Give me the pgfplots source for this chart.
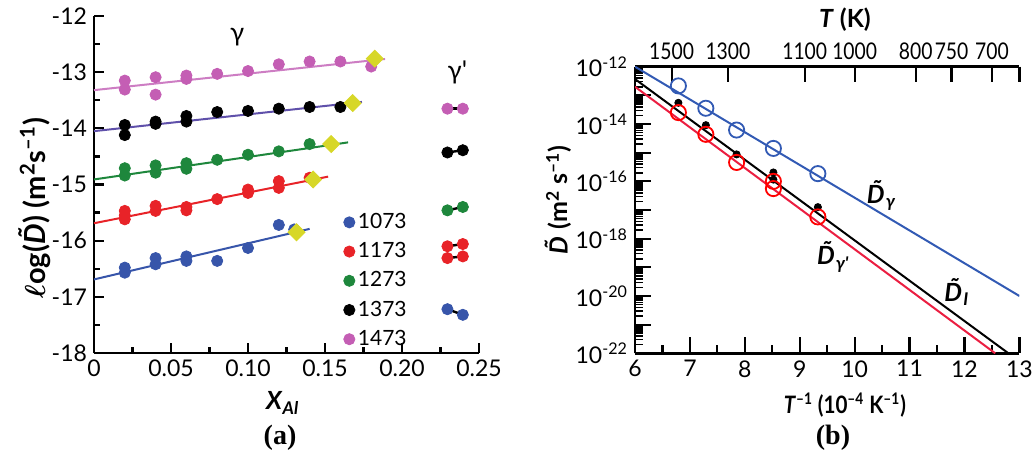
\documentclass[border=0pt]{standalone}
\usepackage{fontspec}
\setmainfont{Lato}
\newfontfamily\narrowfont{Lato}[FakeStretch=0.84]
\newfontfamily\seriffont{Liberation Serif}
\usepackage{amsmath}
\usepackage{graphicx}
\usepackage{pgfplots}
\pgfplotsset{compat=1.18}

\definecolor{cmag}{RGB}{196,94,180}
\definecolor{cmagl}{RGB}{205,125,195}
\definecolor{cgrn}{RGB}{30,135,60}
\definecolor{cred}{RGB}{232,35,40}
\definecolor{cblu}{RGB}{55,85,170}
\definecolor{cpur}{RGB}{95,80,170}
\definecolor{cdia}{RGB}{215,215,40}
\definecolor{bblu}{RGB}{50,90,180}
\definecolor{bred}{RGB}{235,30,65}

\newcommand\tk{\fontsize{11.5}{13}\selectfont}
\newcommand\lb{\fontsize{12.5}{14}\selectfont\bfseries}
\newcommand\Dt{\textbf{\textit{\~D}}}

\pgfplotsset{
  panel/.style={
    scale only axis, clip=false,
    /pgf/number format/assume math mode=true,
    axis line style={-, line width=1.3pt},
    every tick/.style={black, line width=1.1pt},
    tick align=inside,
    ticklabel style={font=\tk},
  },
}

\begin{document}
\begin{tikzpicture}
\useasboundingbox (0,0) rectangle (518pt,-229.5pt);

% (a) composition dependence
\begin{axis}[panel,
  at={(47pt,-176.5pt)}, anchor=south west,
  width=192.5pt, height=168.5pt,
  xmin=0, xmax=0.25, ymin=-18, ymax=-12,
  axis lines*=left,
  major tick length=5pt, minor tick length=3pt,
  xtick={0,0.05,0.1,0.15,0.2,0.25},
  xticklabels={0,0.05,0.10,0.15,0.20,0.25},
  minor x tick num=1,
  ytick={-18,-17,-16,-15,-14,-13,-12},
  yticklabels={-18,-17,-16,-15,-14,-13,-12},
  minor y tick num=1,
  xlabel={\lb\textit{X}\textsubscript{\textit{Al}}},
  xlabel style={at={(rel axis cs:0.49,-0.148)}, anchor=center},
  ylabel={\fontsize{14.5}{16}\selectfont\bfseries$\boldsymbol{\ell}$og(\Dt) (m\textsuperscript{2}s\textsuperscript{--1})},
  ylabel style={at={(rel axis cs:-0.155,0.43)}, anchor=center},
  legend style={at={(axis cs:0.158,-15.38)}, anchor=north west, draw=none, fill=none,
    font=\fontsize{10.5}{12}\selectfont, row sep=2.5pt, nodes={inner sep=1.5pt}},
  legend cell align=left,
  legend image code/.code={\draw[mark repeat=2,mark phase=2,#1] plot coordinates {(0cm,0cm) (0.12cm,0cm) (0.24cm,0cm)};},
]
% fitted lines
\addplot[cblu, line width=1pt, forget plot] coordinates {(0,-16.69) (0.140,-15.79)};
\addplot[cred, line width=1pt, forget plot] coordinates {(0,-15.69) (0.152,-14.86)};
\addplot[cgrn, line width=1pt, forget plot] coordinates {(0,-14.91) (0.165,-14.25)};
\addplot[cpur, line width=1pt, forget plot] coordinates {(0,-14.05) (0.174,-13.53)};
\addplot[cmagl, line width=1pt, forget plot] coordinates {(0,-13.32) (0.189,-12.765)};
% gamma' connectors
\addplot[black, line width=1.2pt, forget plot] coordinates {(0.2295,-17.22) (0.2395,-17.32)};
\addplot[black, line width=1.2pt, forget plot] coordinates {(0.2295,-16.10) (0.2395,-16.06)};
\addplot[black, line width=1.2pt, forget plot] coordinates {(0.2295,-16.31) (0.2395,-16.28)};
\addplot[black, line width=1.2pt, forget plot] coordinates {(0.2295,-15.46) (0.2395,-15.40)};
\addplot[black, line width=1.2pt, forget plot] coordinates {(0.2295,-14.43) (0.2395,-14.39)};
\addplot[black, line width=1.2pt, forget plot] coordinates {(0.2295,-13.65) (0.2395,-13.65)};
% data
\addplot[only marks, mark=*, mark size=2.8pt, color=cblu] coordinates {
 (0.02,-16.48) (0.02,-16.57) (0.04,-16.31) (0.04,-16.42) (0.06,-16.28) (0.06,-16.36)
 (0.08,-16.36) (0.10,-16.13) (0.12,-15.72) (0.13,-15.80)
 (0.2295,-17.22) (0.2395,-17.32)};
\addlegendentry{1073}
\addplot[only marks, mark=*, mark size=2.8pt, color=cred] coordinates {
 (0.02,-15.47) (0.02,-15.55) (0.02,-15.62) (0.04,-15.38) (0.04,-15.47) (0.06,-15.40) (0.06,-15.46)
 (0.08,-15.26) (0.10,-15.09) (0.10,-15.15) (0.12,-14.94) (0.12,-15.06) (0.14,-14.88)
 (0.2295,-16.10) (0.2395,-16.06) (0.2295,-16.31) (0.2395,-16.28)};
\addlegendentry{1173}
\addplot[only marks, mark=*, mark size=2.8pt, color=cgrn] coordinates {
 (0.02,-14.71) (0.02,-14.84) (0.04,-14.66) (0.04,-14.79) (0.06,-14.62) (0.06,-14.72)
 (0.08,-14.56) (0.10,-14.47) (0.12,-14.41) (0.14,-14.28)
 (0.2295,-15.46) (0.2395,-15.40)};
\addlegendentry{1273}
\addplot[only marks, mark=*, mark size=2.8pt, color=black] coordinates {
 (0.02,-13.94) (0.02,-14.12) (0.04,-13.88) (0.04,-13.92) (0.06,-13.78) (0.06,-13.88)
 (0.08,-13.71) (0.10,-13.69) (0.12,-13.65) (0.14,-13.62) (0.16,-13.62)
 (0.2295,-14.43) (0.2395,-14.39)};
\addlegendentry{1373}
\addplot[only marks, mark=*, mark size=2.8pt, color=cmag] coordinates {
 (0.02,-13.15) (0.02,-13.31) (0.04,-13.09) (0.04,-13.40) (0.06,-13.06) (0.06,-13.12)
 (0.08,-13.03) (0.10,-12.98) (0.12,-12.86) (0.14,-12.81) (0.16,-12.81) (0.18,-12.90)
 (0.2295,-13.65) (0.2395,-13.65)};
\addlegendentry{1473}
% interface compositions
\addplot[only marks, mark=square*, mark size=3pt, color=cdia, mark options={rotate=45}, forget plot] coordinates {
 (0.1315,-15.85) (0.1423,-14.91) (0.154,-14.28) (0.168,-13.55) (0.1823,-12.76)};
\node[font=\fontsize{13}{14}\selectfont] at (axis cs:0.093,-12.37) {γ};
\node[font=\fontsize{13}{14}\selectfont] at (axis cs:0.236,-13.0) {γ\textquotesingle};
\end{axis}

% (b) top temperature axis
\begin{axis}[panel,
  at={(317.5pt,-176.65pt)}, anchor=south west,
  width=192.2pt, height=143.3pt,
  xmin=6, xmax=13, ymin=-22, ymax=-12,
  axis x line*=top, axis y line=none,
  major tick length=7.5pt,
  xtick={6.6667,7.6923,9.0909,10,11.1111,11.7647,12.5,13},
  xticklabels={1500,1300,1100,1000,800,750,700,{}},
  xticklabel style={font=\narrowfont\fontsize{11.5}{13}\selectfont},
  xlabel={\lb\textit{T} (K)},
  xlabel style={at={(rel axis cs:0.546,1.163)}, anchor=center},
]
\addplot[draw=none, forget plot] coordinates {(6,-12)};
\end{axis}

% (b) main axis
\begin{axis}[panel,
  at={(317.5pt,-176.65pt)}, anchor=south west,
  width=192.2pt, height=143.3pt,
  xmin=6, xmax=13, ymin=1e-22, ymax=1e-12, ymode=log,
  clip=true, clip marker paths=false,
  axis x line*=bottom, axis y line*=left,
  major tick length=8pt, minor tick length=4pt,
  xtick={6,7,8,9,10,11,12,13},
  xticklabels={6,7,8,9,10,11,12,13},
  minor x tick num=1,
  ytick={1e-22,1e-20,1e-18,1e-16,1e-14,1e-12},
  yticklabels={10\textsuperscript{-22},10\textsuperscript{-20},10\textsuperscript{-18},10\textsuperscript{-16},10\textsuperscript{-14},10\textsuperscript{-12}},
  xlabel={\scalebox{0.86}[1]{\fontsize{12}{13}\selectfont\bfseries\textit{T}\textsuperscript{--1} (10\textsuperscript{--4} K\textsuperscript{--1})}},
  xlabel style={at={(rel axis cs:0.546,-0.18)}, anchor=center},
  ylabel={\lb\Dt\ (m\textsuperscript{2} s\textsuperscript{--1})},
  ylabel style={at={(rel axis cs:-0.20,0.535)}, anchor=center},
]
% log minor ticks and odd decades, as short horizontal combs from the y axis
\addplot[xcomb, mark=none, black, line width=0.8pt, forget plot] coordinates {
 (6.1457,2e-22) (6.1457,3e-22) (6.1457,4e-22) (6.1457,5e-22) (6.1457,6e-22) (6.1457,7e-22) (6.1457,8e-22) (6.1457,9e-22)
 (6.1457,2e-21) (6.1457,3e-21) (6.1457,4e-21) (6.1457,5e-21) (6.1457,6e-21) (6.1457,7e-21) (6.1457,8e-21) (6.1457,9e-21)
 (6.1457,2e-20) (6.1457,3e-20) (6.1457,4e-20) (6.1457,5e-20) (6.1457,6e-20) (6.1457,7e-20) (6.1457,8e-20) (6.1457,9e-20)
 (6.1457,2e-19) (6.1457,3e-19) (6.1457,4e-19) (6.1457,5e-19) (6.1457,6e-19) (6.1457,7e-19) (6.1457,8e-19) (6.1457,9e-19)
 (6.1457,2e-18) (6.1457,3e-18) (6.1457,4e-18) (6.1457,5e-18) (6.1457,6e-18) (6.1457,7e-18) (6.1457,8e-18) (6.1457,9e-18)
 (6.1457,2e-17) (6.1457,3e-17) (6.1457,4e-17) (6.1457,5e-17) (6.1457,6e-17) (6.1457,7e-17) (6.1457,8e-17) (6.1457,9e-17)
 (6.1457,2e-16) (6.1457,3e-16) (6.1457,4e-16) (6.1457,5e-16) (6.1457,6e-16) (6.1457,7e-16) (6.1457,8e-16) (6.1457,9e-16)
 (6.1457,2e-15) (6.1457,3e-15) (6.1457,4e-15) (6.1457,5e-15) (6.1457,6e-15) (6.1457,7e-15) (6.1457,8e-15) (6.1457,9e-15)
 (6.1457,2e-14) (6.1457,3e-14) (6.1457,4e-14) (6.1457,5e-14) (6.1457,6e-14) (6.1457,7e-14) (6.1457,8e-14) (6.1457,9e-14)
 (6.1457,2e-13) (6.1457,3e-13) (6.1457,4e-13) (6.1457,5e-13) (6.1457,6e-13) (6.1457,7e-13) (6.1457,8e-13) (6.1457,9e-13)};
\addplot[xcomb, mark=none, black, line width=1.1pt, forget plot] coordinates {
 (6.2914,1e-21) (6.2914,1e-19) (6.2914,1e-17) (6.2914,1e-15) (6.2914,1e-13)};
\addplot[bblu, line width=1pt] coordinates {(6,1e-12) (13,1e-20)};
\addplot[black, line width=1pt] coordinates {(6,3.7e-13) (12.80,1e-22)};
\addplot[bred, line width=1pt] coordinates {(6,2.0e-13) (12.56,1e-22)};
\addplot[only marks, mark=o, mark size=3.8pt, color=bblu, mark options={line width=0.9pt}] coordinates {
 (6.79,2.14e-13) (7.29,3.55e-14) (7.85,6.17e-15) (8.52,1.41e-15) (9.33,1.86e-16)};
\addplot[only marks, mark=*, mark size=1.8pt, color=black] coordinates {
 (6.79,5.5e-14) (7.29,9.1e-15) (7.85,8.7e-16) (8.52,2.04e-16) (8.52,1.15e-16) (9.33,1.26e-17)};
\addplot[only marks, mark=o, mark size=3.8pt, color=red, mark options={line width=0.9pt}] coordinates {
 (6.79,2.51e-14) (7.29,4.37e-15) (7.85,4.57e-16) (8.52,1.0e-16) (8.52,5.6e-17) (9.33,5.75e-18)};
\node[font=\lb] at (axis cs:10.49,3.2e-17) {\Dt\textsubscript{\textit{γ}}};
\node[font=\lb] at (axis cs:9.61,2.3e-19) {\Dt\textsubscript{\textit{γ\textquotesingle}}};
\node[font=\lb] at (axis cs:11.86,1.35e-20) {\Dt\textsubscript{\textit{I}}};
\end{axis}

\node[font=\seriffont\fontsize{14}{16}\selectfont\bfseries] at (140pt,-219pt) {(a)};
\node[font=\seriffont\fontsize{14}{16}\selectfont\bfseries] at (416.5pt,-219pt) {(b)};
\end{tikzpicture}
\end{document}
